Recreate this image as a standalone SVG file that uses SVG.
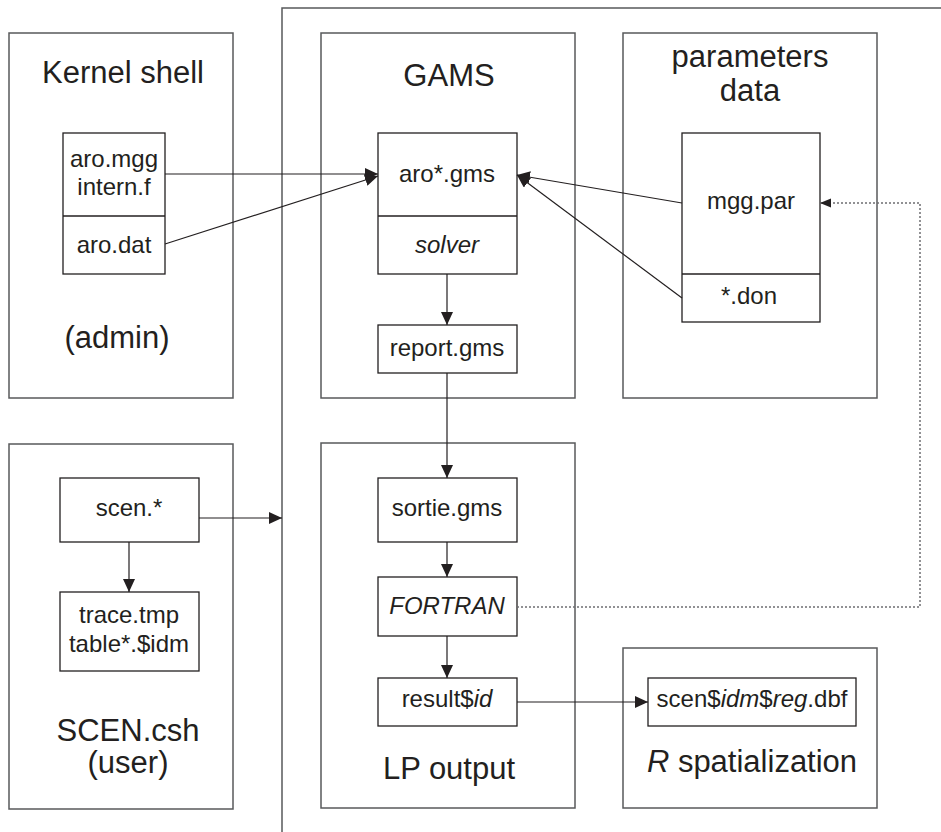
<svg xmlns="http://www.w3.org/2000/svg" width="941" height="832" viewBox="0 0 941 832">
<style>
text{font-family:"Liberation Sans",Arial,sans-serif;fill:#231f20;text-anchor:middle}
.t{font-size:31px}
.s{font-size:24px}
.i{font-style:italic}
.grp{fill:none;stroke:#58595b;stroke-width:1.5}
.box{fill:none;stroke:#231f20;stroke-width:1.3}
.c{fill:none;stroke:#231f20;stroke-width:1.2}
.d{fill:none;stroke:#6d6e71;stroke-width:1.5;stroke-dasharray:2,2}
</style>
<defs>
<marker id="a" markerUnits="userSpaceOnUse" markerWidth="14" markerHeight="12" refX="13" refY="6" orient="auto">
<path d="M0,0 L13,6 L0,12 z" fill="#231f20"/>
</marker>
<marker id="ad" markerUnits="userSpaceOnUse" markerWidth="12" markerHeight="10" refX="11" refY="5" orient="auto">
<path d="M0,0.5 L11,5 L0,9.5 z" fill="#231f20"/>
</marker>
</defs>
<g id="frame">
<path class="grp" d="M282,832 V8 H941"/>
</g>
<g id="kernel">
<rect class="grp" x="9" y="33" width="224" height="365"/>
<text class="t" x="123" y="83">Kernel shell</text>
<rect class="box" x="63" y="133" width="102" height="141"/>
<line class="box" x1="63" y1="216" x2="165" y2="216"/>
<text class="s" x="114" y="167">aro.mgg</text>
<text class="s" x="114" y="195">intern.f</text>
<text class="s" x="114" y="253">aro.dat</text>
<text class="t" x="117" y="348">(admin)</text>
</g>
<g id="gams">
<rect class="grp" x="321" y="33" width="254" height="365"/>
<text class="t" x="449" y="86">GAMS</text>
<rect class="box" x="378" y="133" width="139" height="141"/>
<line class="box" x1="378" y1="216" x2="517" y2="216"/>
<text class="s" x="447" y="182">aro*.gms</text>
<text class="s i" x="447" y="253">solver</text>
<rect class="box" x="378" y="325" width="139" height="48"/>
<text class="s" x="447" y="356">report.gms</text>
</g>
<g id="params">
<rect class="grp" x="623" y="33" width="254" height="365"/>
<text class="t" x="750" y="67">parameters</text>
<text class="t" x="750" y="101">data</text>
<rect class="box" x="682" y="133" width="138" height="189"/>
<line class="box" x1="682" y1="274" x2="820" y2="274"/>
<text class="s" x="751" y="209">mgg.par</text>
<text class="s" x="749" y="304">*.don</text>
</g>
<g id="scen">
<rect class="grp" x="9" y="444" width="224" height="365"/>
<rect class="box" x="60" y="478" width="139" height="64"/>
<text class="s" x="129" y="516">scen.*</text>
<rect class="box" x="60" y="592" width="139" height="79"/>
<text class="s" x="129" y="623">trace.tmp</text>
<text class="s" x="129" y="652">table*.$idm</text>
<text class="t" x="128" y="741">SCEN.csh</text>
<text class="t" x="128" y="773">(user)</text>
</g>
<g id="lp">
<rect class="grp" x="321" y="443" width="254" height="365"/>
<rect class="box" x="378" y="478" width="139" height="64"/>
<text class="s" x="447" y="516">sortie.gms</text>
<rect class="box" x="378" y="577" width="139" height="59"/>
<text class="s i" x="447" y="614">FORTRAN</text>
<rect class="box" x="378" y="678" width="139" height="48"/>
<text class="s" x="447" y="707">result$<tspan class="i">id</tspan></text>
<text class="t" x="449" y="779">LP output</text>
</g>
<g id="rspat">
<rect class="grp" x="623" y="648" width="254" height="160"/>
<rect class="box" x="648" y="678" width="208" height="48"/>
<text class="s" x="752" y="707">scen$<tspan class="i">idm</tspan>$<tspan class="i">reg</tspan>.dbf</text>
<text class="t" x="752" y="772"><tspan class="i">R</tspan> spatialization</text>
</g>
<g id="connectors">
<line class="c" x1="165" y1="174" x2="378" y2="174" marker-end="url(#a)"/>
<line class="c" x1="165" y1="244" x2="378" y2="176" marker-end="url(#a)"/>
<line class="c" x1="682" y1="203" x2="517" y2="175" marker-end="url(#a)"/>
<line class="c" x1="682" y1="298" x2="517" y2="175" marker-end="url(#a)"/>
<line class="c" x1="447" y1="274" x2="447" y2="325" marker-end="url(#a)"/>
<line class="c" x1="447" y1="373" x2="447" y2="478" marker-end="url(#a)"/>
<line class="c" x1="447" y1="542" x2="447" y2="577" marker-end="url(#a)"/>
<line class="c" x1="447" y1="636" x2="447" y2="678" marker-end="url(#a)"/>
<line class="c" x1="517" y1="702" x2="648" y2="702" marker-end="url(#a)"/>
<line class="c" x1="199" y1="518" x2="282" y2="518" marker-end="url(#a)"/>
<line class="c" x1="129" y1="542" x2="129" y2="592" marker-end="url(#a)"/>
<path class="d" d="M517,607 H920 V203 H820" marker-end="url(#ad)"/>
</g>
</svg>
